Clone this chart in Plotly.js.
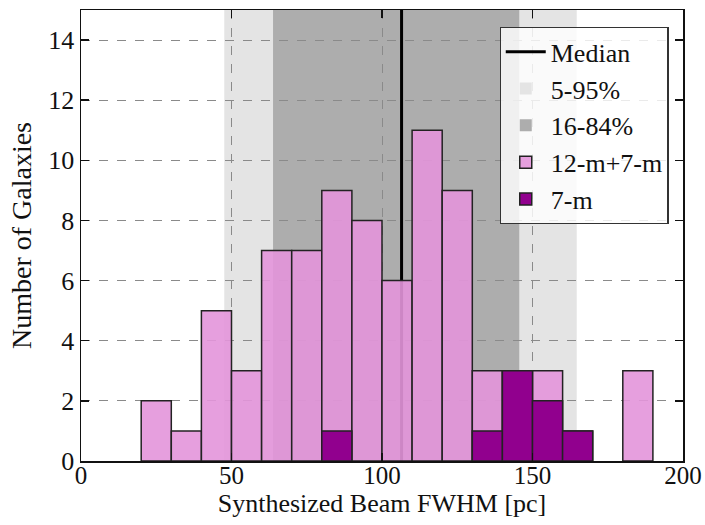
<!DOCTYPE html>
<html><head><meta charset="utf-8">
<script src="https://cdn.plot.ly/plotly-3.0.1.min.js"></script>
<style>body{margin:0;background:#fff}#c{width:705px;height:525px}</style>
</head><body><div id="c"></div>
<script>
// bin centres (bins of 10 pc)
const binCenters = [25,35,45,55,65,75,85,95,105,115,125,135,145,155,165,175,185];
const countsAll  = [2,1,5,3,7,7,9,8,6,11,9,3,3,3,1,null,3];   // 12-m+7-m
const counts7m   = [null,null,null,null,null,null,1,null,null,null,null,1,3,2,1,null,null]; // 7-m
const median = 106.5;
const p5_95  = [47.6, 164.7];
const p16_84 = [63.8, 145.6];
const xTicks = [0,50,100,150,200];
const yTicks = [0,2,4,6,8,10,12,14];

const serif = "Liberation Serif, Times New Roman, serif";
const pink = "rgba(227,149,218,0.9)";
const purple = "rgba(145,0,142,1)";
const light = "#e4e4e4";
const dark = "#adadad";

const traces = [
  {type:"scatter", mode:"lines", x:[null], y:[null], name:"Median",
   line:{color:"black", width:3}, legendgroup:"a"},
  {type:"bar", x:[null], y:[null], name:"5-95%", marker:{color:light, line:{width:0}}, legendgroup:"b"},
  {type:"bar", x:[null], y:[null], name:"16-84%", marker:{color:dark, line:{width:0}}, legendgroup:"c"},
  {type:"bar", x:binCenters, y:countsAll, width:10, name:"12-m+7-m",
   marker:{color:pink, line:{color:"#222", width:1.5}}, legendgroup:"d"},
  {type:"bar", x:binCenters, y:counts7m, width:10, name:"7-m",
   marker:{color:purple, line:{color:"#222", width:1.5}}, legendgroup:"e"}
];

const layout = {
  width:705, height:525,
  margin:{l:81, r:22, t:10, b:64},
  paper_bgcolor:"#fff", plot_bgcolor:"#fff",
  barmode:"overlay", bargap:0,
  font:{family:serif, color:"#111", size:24},
  showlegend:true,
  legend:{x:0.976, y:0.962, xanchor:"right", yanchor:"top",
          bgcolor:"rgba(255,255,255,0.82)", bordercolor:"#333", borderwidth:1.2,
          font:{family:serif, size:26, color:"#111"}, tracegroupgap:12,
          traceorder:"normal", itemwidth:40},
  xaxis:{range:[0,200], tickvals:xTicks, ticktext:xTicks.map(String),
         ticks:"inside", ticklen:8, tickwidth:1.5, tickcolor:"#111",
         showline:true, linecolor:"#111", linewidth:1.5, mirror:"ticks",
         showgrid:true, gridcolor:"#8a8a8a", griddash:"dash", gridwidth:1,
         zeroline:false, tickfont:{family:serif, size:25}, ticklabelstandoff:-9,
         title:{text:"Synthesized Beam FWHM [pc]", font:{family:serif, size:26}, standoff:6}},
  yaxis:{range:[0,15], tickvals:yTicks, ticktext:yTicks.map(String),
         ticks:"inside", ticklen:8, tickwidth:1.5, tickcolor:"#111",
         showline:true, linecolor:"#111", linewidth:1.5, mirror:"ticks",
         showgrid:true, gridcolor:"#8a8a8a", griddash:"dash", gridwidth:1,
         zeroline:false, tickfont:{family:serif, size:26},
         title:{text:"Number of Galaxies", font:{family:serif, size:28}, standoff:8}},
  shapes:[
    {type:"rect", xref:"x", yref:"paper", x0:p5_95[0], x1:p5_95[1], y0:0, y1:1,
     fillcolor:light, line:{width:0}, layer:"below"},
    {type:"rect", xref:"x", yref:"paper", x0:p16_84[0], x1:p16_84[1], y0:0, y1:1,
     fillcolor:dark, line:{width:0}, layer:"below"},
    {type:"line", xref:"x", yref:"paper", x0:median, x1:median, y0:0, y1:1,
     line:{color:"black", width:3}, layer:"between"}
  ]
};
Plotly.newPlot("c", traces, layout, {displayModeBar:false, staticPlot:true});
</script></body></html>
